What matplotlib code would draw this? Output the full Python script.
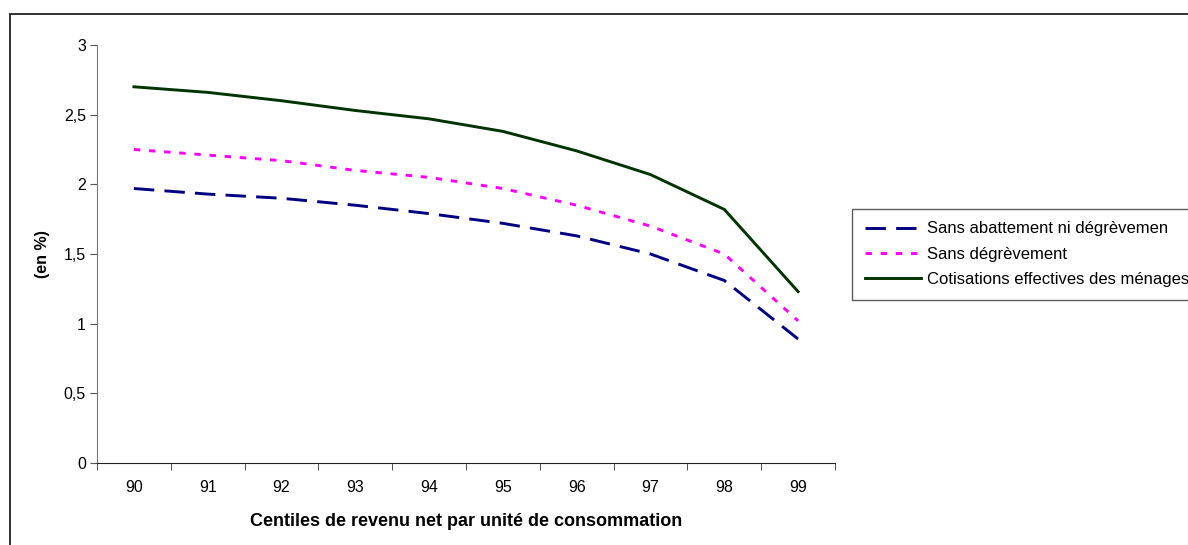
import matplotlib.pyplot as plt
from matplotlib.patches import Rectangle

plt.rcParams['font.family'] = ['Liberation Sans', 'DejaVu Sans']

centiles = ['90', '91', '92', '93', '94', '95', '96', '97', '98', '99']
sans_abattement = [1.97, 1.93, 1.90, 1.85, 1.79, 1.72, 1.63, 1.50, 1.31, 0.89]
sans_degrevement = [2.25, 2.21, 2.17, 2.10, 2.05, 1.97, 1.85, 1.70, 1.50, 1.02]
cotisations = [2.70, 2.66, 2.60, 2.53, 2.47, 2.38, 2.24, 2.07, 1.82, 1.23]
y_ticks = [0, 0.5, 1, 1.5, 2, 2.5, 3]
y_labels = ['0', '0,5', '1', '1,5', '2', '2,5', '3']

W, H = 1188, 545
fig = plt.figure(figsize=(W / 100, H / 100), dpi=100)
ax = fig.add_axes([97 / W, 1 - 463 / H, (835 - 97) / W, (463 - 45) / H])

x = range(len(centiles))
ax.plot(x, sans_abattement, color='#000080', lw=2.1, dashes=(7, 3.5),
        label='Sans abattement ni dégrèvemen')
ax.plot(x, sans_degrevement, color='#FF00FF', lw=2.1, dashes=(2.2, 3.0),
        label='Sans dégrèvement')
ax.plot(x, cotisations, color='#003300', lw=2.1,
        label='Cotisations effectives des ménages')

ax.set_xlim(-0.5, len(centiles) - 0.5)
ax.set_ylim(0, 3)
ax.set_xticks(x)
ax.set_xticklabels(centiles)
ax.set_xticks([i - 0.5 for i in range(len(centiles) + 1)], minor=True)
ax.tick_params(axis='x', which='major', length=0, pad=12.5, labelsize=11.5)
ax.tick_params(axis='x', which='minor', length=5, direction='out', color='#333333')
ax.set_yticks(y_ticks)
ax.set_yticklabels(y_labels)
ax.tick_params(axis='y', length=5, direction='out', labelsize=11.5, color='#555555', pad=3)

for side in ('top', 'right'):
    ax.spines[side].set_visible(False)
ax.spines['left'].set_color('#777777')
ax.spines['bottom'].set_color('#222222')

ax.set_xlabel('Centiles de revenu net par unité de consommation',
              fontweight='bold', fontsize=13, labelpad=13)
ax.set_ylabel('(en %)', fontweight='bold', fontsize=11.5, labelpad=10)

leg = ax.legend(loc='upper left', bbox_to_anchor=(852 / W, 1 - 209 / H),
                bbox_transform=fig.transFigure, frameon=True, fancybox=False,
                fontsize=12, handlelength=3.4, handletextpad=0.36,
                borderpad=0.75, labelspacing=0.62, borderaxespad=0)
leg.get_frame().set_edgecolor('#333333')
leg.get_frame().set_linewidth(1.0)

# outer frame around the chart area
fig.patches.append(Rectangle((9.5 / W, -0.05), 1.1, 1 - 14 / H + 0.05,
                             transform=fig.transFigure, fill=False,
                             edgecolor='#222222', lw=1.3, clip_on=False))

fig.savefig('out.png', dpi=100)
